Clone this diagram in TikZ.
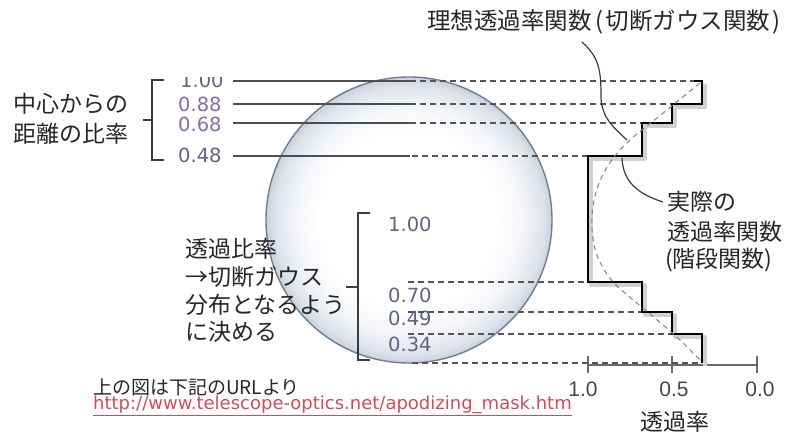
\documentclass[tikz,border=0pt]{standalone}
\usepackage{fontspec}
\setmainfont{DejaVu Sans}
\newfontfamily\jp{Noto Sans CJK JP}
\newfontfamily\numfont{DejaVu Sans}
\newfontfamily\axisfont{Liberation Sans}
\usetikzlibrary{calc}

\definecolor{ink}{HTML}{262626}
\definecolor{guidegray}{HTML}{4E4E4E}
\definecolor{dashgray}{HTML}{555555}
\definecolor{idealgray}{HTML}{8A8A8A}
\definecolor{lensmid}{HTML}{F3F6F9}
\definecolor{lensring}{HTML}{DCE3EA}
\definecolor{lensrim}{HTML}{C8D2DD}
\definecolor{lensedge}{HTML}{6E7D90}
\definecolor{ratioblue}{HTML}{5F6484}
\definecolor{ratiopurple}{HTML}{8A6CA6}
\definecolor{urlred}{HTML}{D24A5C}
\definecolor{axisgray}{HTML}{6A6A6A}

% glass-like lens: white centre, pale bluish ring toward the rim
\pgfdeclareradialshading{lensglass}{\pgfpoint{0bp}{0bp}}{%
  color(0bp)=(white); color(15bp)=(white); color(20bp)=(lensmid);
  color(23.5bp)=(lensring); color(25bp)=(lensrim); color(50bp)=(lensrim)}

\begin{document}
\begin{tikzpicture}[x=1pt,y=-1pt,
  jtext/.style={font=\jp\fontsize{23}{27}\selectfont, text=ink, inner sep=0pt, anchor=west},
  ratio/.style={font=\numfont\fontsize{19.5}{21}\selectfont, inner sep=0pt, anchor=west},
  axislbl/.style={font=\axisfont\fontsize{21}{22}\selectfont, text=ink!85, inner sep=0pt},
  guide/.style={draw=guidegray, line width=2pt},
  dashline/.style={draw=dashgray, line width=1.3pt, dash pattern=on 6pt off 4pt},
  stepline/.style={draw=black, line width=2.6pt, line join=miter},
  stepshadow/.style={draw=black!18, line width=4pt, line join=round},
  ideal/.style={draw=idealgray, line width=1.1pt, dash pattern=on 5pt off 4pt},
  leader/.style={draw=ink!90, line width=1.2pt},
  bracketline/.style={draw=ink!90, line width=1.2pt},
  axisline/.style={draw=axisgray, line width=2pt},
]
\useasboundingbox (0,0) rectangle (788,436);

% ---------------- lens ----------------
\shade[shading=lensglass] (409,220) circle (143);
\draw[lensedge, line width=1.4pt] (409,220) circle (143);

% ---------------- step levels ----------------
\coordinate (s1) at (702,81);
\coordinate (s2) at (702,104);
\coordinate (s3) at (672,104);
\coordinate (s4) at (672,123);
\coordinate (s5) at (642,123);
\coordinate (s6) at (642,156);
\coordinate (s7) at (588,156);
\coordinate (s8) at (588,282);
\coordinate (s9) at (642,282);
\coordinate (s10) at (642,312);
\coordinate (s11) at (672,312);
\coordinate (s12) at (672,334);
\coordinate (s13) at (702,334);
\coordinate (s14) at (702,363);

% ---------------- upper ratios ----------------
\begin{scope}
  \clip (170,77.5) rectangle (240,95);
  \node[ratio, text=ratioblue] (r100) at (180,80) {1.00};
\end{scope}
\node[ratio, text=ratiopurple] (r088) at (178,104) {0.88};
\node[ratio, text=ratiopurple] (r068) at (178,124) {0.68};
\node[ratio, text=ratioblue]   (r048) at (178,155) {0.48};

\draw[guide] (233,81) -- (410,81);
\draw[guide] (233,104) -- (410,104);
\draw[guide] (233,123) -- (410,123);
\draw[guide] (233,156) -- (410,156);
\draw[dashline] (410,81) -- (s1);
\draw[dashline] (410,104) -- (s3);
\draw[dashline] (410,123) -- (s5);
\draw[dashline] (412,156) -- (s7);

\draw[bracketline] (164,80) -- (152,80) -- (152,160) -- (164,160);
\draw[bracketline] (152,120) -- (143,120);

\node[jtext] (distA) at (13,104) {中心からの};
\node[jtext] (distB) at (13,134) {距離の比率};

% ---------------- lower ratios ----------------
\node[ratio, text=ratioblue] (t100) at (388,224) {1.00};
\node[ratio, text=ratioblue] (t070) at (388,295) {0.70};
\node[ratio, text=ratioblue] (t049) at (388,318) {0.49};
\node[ratio, text=ratioblue] (t034) at (388,344) {0.34};

\draw[dashline] (408,282) -- (s8);
\draw[dashline] (408,312) -- (s10);
\draw[dashline] (408,334) -- (s12);

\draw[bracketline] (370,213) -- (358,213) -- (358,360) -- (370,360);
\draw[bracketline] (358,287) -- (346,287);

\node[jtext] (ruleA) at (185,249) {透過比率};
\node[jtext] (ruleB) at (185,277) {→切断ガウス};
\node[jtext] (ruleC) at (185,305) {分布となるよう};
\node[jtext] (ruleD) at (185,332) {に決める};

% ---------------- transmission axis ----------------
\coordinate (ax0) at (588,365);
\coordinate (ax1) at (757,365);
\draw[axisline] (ax0) -- (ax1);
\foreach \tx in {588,672,757} \draw[axisgray, line width=1.6pt] (\tx,356) -- (\tx,373);
\draw[dashline] (412,363) -- (s14);
\node[axislbl] (a10) at (583,389) {1.0};
\node[axislbl] (a05) at (674,389) {0.5};
\node[axislbl] (a00) at (760,389) {0.0};
\node[jtext, anchor=center] (axtitle) at (675,422) {透過率};

% ---------------- step function ----------------
\draw[stepshadow, shift={(3,3)}] (702,81) -- (702,104) -- (672,104) -- (672,123) -- (642,123) -- (642,156) -- (588,156)
   -- (588,282) -- (642,282) -- (642,312) -- (672,312) -- (672,334) -- (702,334) -- (702,363);
\draw[stepline] (694,81) -- (s1) -- (s2) -- (s3) -- (s4) -- (s5) -- (s6) -- (s7) -- (s8) -- (s9)
   -- (s10) -- (s11) -- (s12) -- (s13) -- (s14);

% ideal truncated gaussian
\draw[ideal] plot[smooth, tension=0.6] coordinates {(700,83) (662,114) (630,140) (611,161) (598,186) (592,215)
   (594,245) (602,266) (614,283) (632,299) (656,319) (680,340) (701,361)};

% ---------------- labels ----------------
\node[jtext, font=\jp\fontsize{23.5}{27}\selectfont] (ideallbl) at (427,22)
   {理想透過率関数\kern4pt(\kern2pt切断ガウス関数\kern2pt)};
\coordinate (idealpt) at (627,140);
\draw[leader] (582,42) .. controls (600,58) and (601,72) .. (601,98)
   .. controls (602,118) and (614,128) .. (idealpt);

\node[jtext] (realA) at (667,202) {実際の};
\node[jtext] (realB) at (667,232) {透過率関数};
\node[jtext] (realC) at (665,260) {(階段関数)};
\coordinate (realpt) at (622,158);
\draw[leader] (realpt) .. controls (623,182) and (638,194) .. ($(realA.west)+(-4,0)$);

% ---------------- source ----------------
\node[jtext, font=\jp\fontsize{19}{22}\selectfont] (src) at (93,387) {上の図は下記のURLより};
\node[inner sep=0pt, anchor=west, font=\numfont\fontsize{18}{20}\selectfont, text=urlred] (url) at (93,405)
   {http://www.telescope-optics.net/apodizing\_mask.htm};
\draw[urlred, line width=0.8pt] ($(url.south west)+(0,1)$) -- ($(url.south east)+(0,1)$);

\end{tikzpicture}
\end{document}
